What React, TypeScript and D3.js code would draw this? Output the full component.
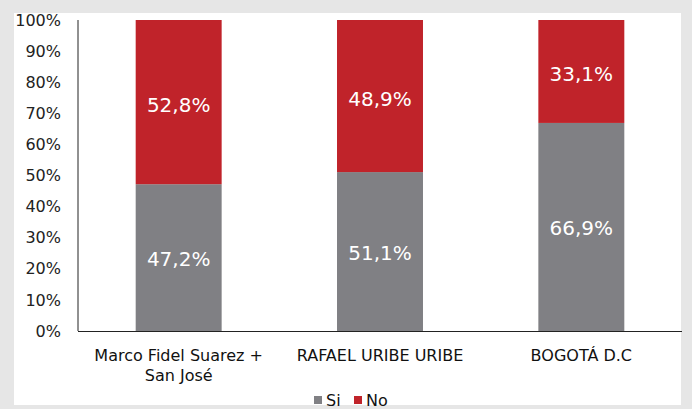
import React from 'react';
import * as d3 from 'd3';

const categories = ['Marco Fidel Suarez + San José', 'RAFAEL URIBE URIBE', 'BOGOTÁ D.C'];
const categoryLines = [['Marco Fidel Suarez +', 'San José'], ['RAFAEL URIBE URIBE'], ['BOGOTÁ D.C']];
const siValues = [47.2, 51.1, 66.9];
const noValues = [52.8, 48.9, 33.1];
const yTicks = [0, 10, 20, 30, 40, 50, 60, 70, 80, 90, 100];
const seriesNames = ['Si', 'No'];

const W = 692;
const H = 409;
const FONT = '"DejaVu Sans", Verdana, sans-serif';
const GRAY = '#808084';
const RED = '#c0232a';

const App: React.FC = () => {
  const left = 78;
  const right = 682;
  const top = 20;
  const bottom = 331;

  const x = d3.scaleBand().domain(categories).range([left, right]).paddingInner(0.573).paddingOuter(0.2865);
  const y = d3.scaleLinear().domain([0, 100]).range([bottom, top]);
  const fmt = (v: number) => v.toFixed(1).replace('.', ',') + '%';

  return (
    <svg width={W} height={H} style={{ display: 'block', position: 'absolute', left: 0, top: 0 }} fontFamily={FONT}>
      <rect width={W} height={H} fill="#e6e6e6" />
      <rect x={14} y={13} width={667} height={392} fill="#ffffff" />

      {yTicks.map((t) => (
        <text key={t} x={61} y={y(t)} dy="0.35em" textAnchor="end" fontSize={16} fill="#222">
          {t}%
        </text>
      ))}

      {categories.map((c, i) => {
        const bx = x(c) || 0;
        const bw = x.bandwidth();
        const cx = bx + bw / 2;
        return (
          <g key={c}>
            <rect x={bx} y={y(siValues[i])} width={bw} height={bottom - y(siValues[i])} fill={GRAY} />
            <rect x={bx} y={y(100)} width={bw} height={y(siValues[i]) - y(100)} fill={RED} />
            <text x={cx} y={(y(siValues[i]) + bottom) / 2 + 1.5} dy="0.35em" textAnchor="middle" fontSize={20} fill="#fff">
              {fmt(siValues[i])}
            </text>
            <text x={cx} y={(y(100) + y(siValues[i])) / 2 + 2.5} dy="0.35em" textAnchor="middle" fontSize={20} fill="#fff">
              {fmt(noValues[i])}
            </text>
            {categoryLines[i].map((ln, k) => (
              <text key={k} x={cx} y={355 + k * 20} dy="0.35em" textAnchor="middle" fontSize={16} fill="#111">
                {ln}
              </text>
            ))}
          </g>
        );
      })}

      <line x1={left} x2={left} y1={top} y2={bottom} stroke="#222" strokeWidth={1} />
      <line x1={left} x2={right} y1={bottom + 0.5} y2={bottom + 0.5} stroke="#222" strokeWidth={1} />

      <g>
        <rect x={314} y={396} width={8} height={8} fill={GRAY} />
        <text x={326} y={400} dy="0.35em" fontSize={16} fill="#111">{seriesNames[0]}</text>
        <rect x={354} y={396} width={8} height={8} fill={RED} />
        <text x={366} y={400} dy="0.35em" fontSize={16} fill="#111">{seriesNames[1]}</text>
      </g>
    </svg>
  );
};

export default App;
